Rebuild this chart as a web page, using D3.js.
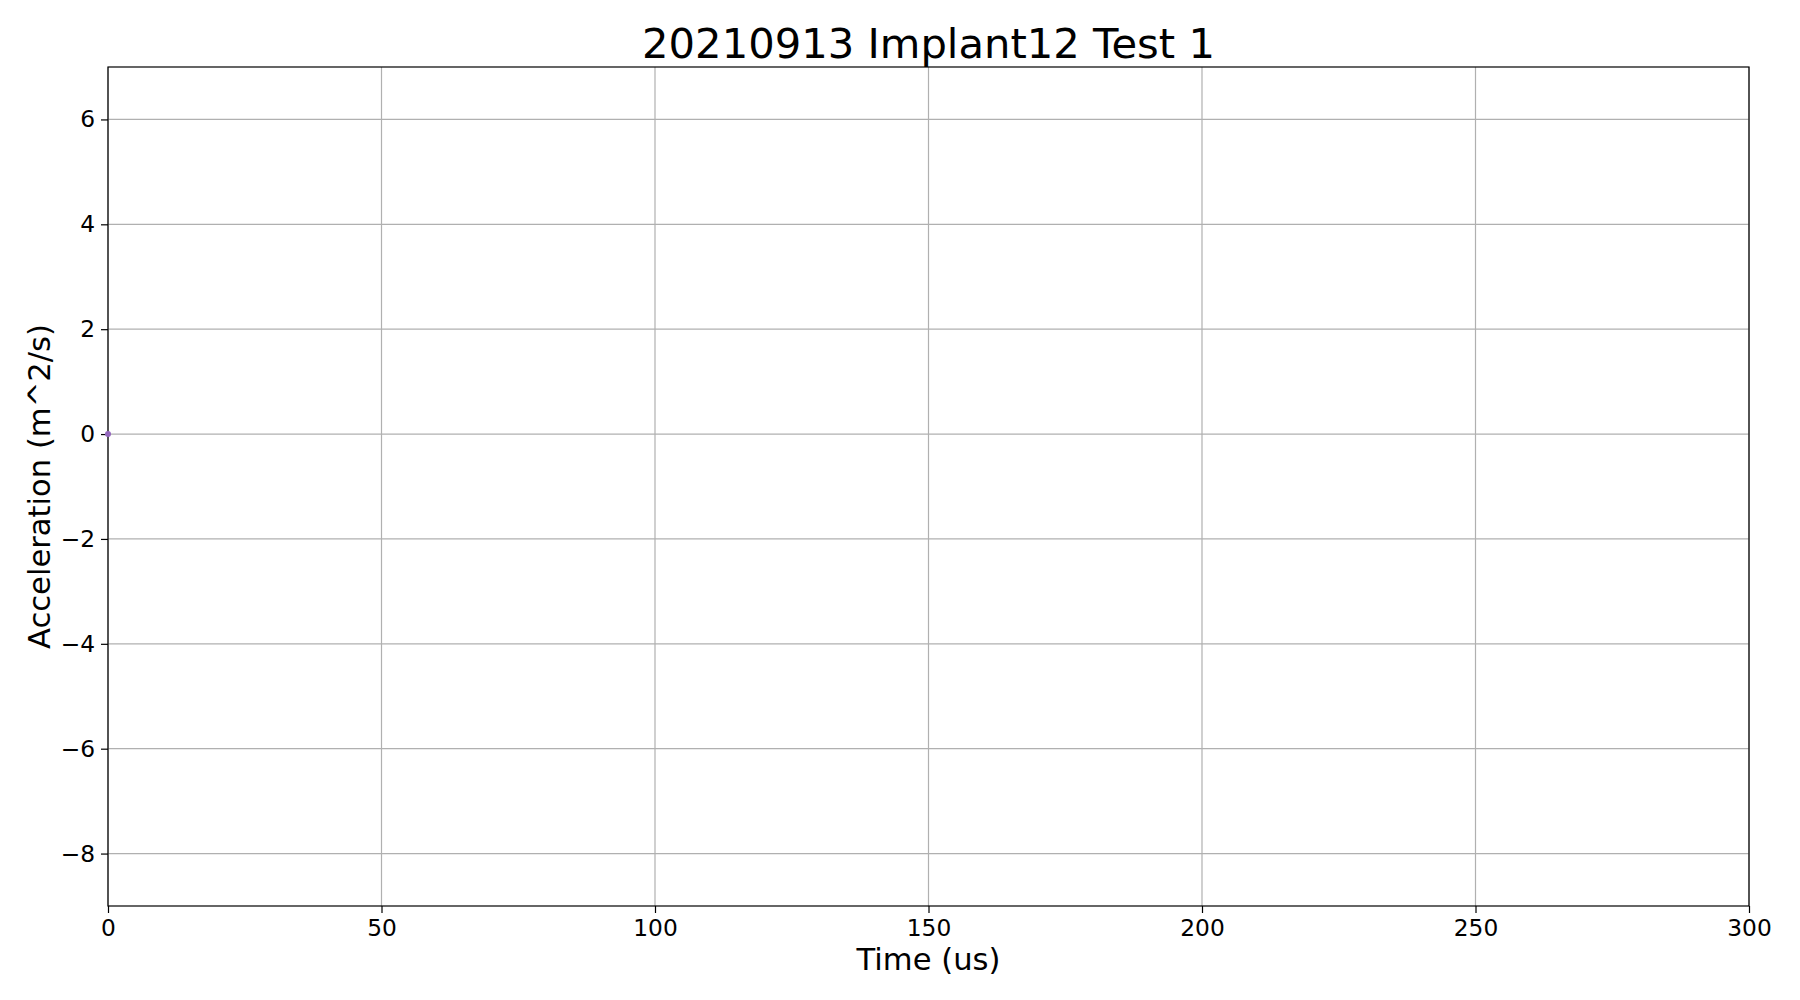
<!DOCTYPE html>
<html>
<head>
<meta charset="utf-8">
<script src="https://cdn.jsdelivr.net/npm/d3@7"></script>
<style>
  body { margin: 0; background: #fff; }
  text { font-family: "DejaVu Sans", sans-serif; }
</style>
</head>
<body>
<svg id="chart" width="1800" height="1000"></svg>
<script>
// data: a single sample at the origin
const timeUs = [0];
const accel = [0];
const xTicks = [0, 50, 100, 150, 200, 250, 300];
const yTicks = [-8, -6, -4, -2, 0, 2, 4, 6];

const margin = { top: 67, right: 51, bottom: 91, left: 108 };
const width = 1800, height = 1000;
const svg = d3.select('#chart');

const x = d3.scaleLinear().domain([0, 300]).range([margin.left, width - margin.right]);
const y = d3.scaleLinear().domain([-9, 7]).range([height - margin.bottom - 3, margin.top]);

// grid
svg.append('g').selectAll('line').data(xTicks).join('line')
  .attr('x1', d => x(d)).attr('x2', d => x(d))
  .attr('y1', y(-9)).attr('y2', y(7))
  .attr('stroke', '#b0b0b0').attr('stroke-width', 1.2);
svg.append('g').selectAll('line').data(yTicks).join('line')
  .attr('y1', d => y(d)).attr('y2', d => y(d))
  .attr('x1', x(0)).attr('x2', x(300))
  .attr('stroke', '#b0b0b0').attr('stroke-width', 1.2);

// axes
const xAxis = svg.append('g')
  .attr('transform', `translate(0,${y(-9)})`)
  .call(d3.axisBottom(x).tickValues(xTicks).tickSize(7).tickPadding(6));
const yAxis = svg.append('g')
  .attr('transform', `translate(${x(0)},0)`)
  .call(d3.axisLeft(y).tickValues(yTicks).tickSize(7).tickPadding(6)
    .tickFormat(d => d < 0 ? '\u2212' + Math.abs(d) : d));
[xAxis, yAxis].forEach(g => {
  g.attr('font-size', 23.3).attr('font-family', 'DejaVu Sans');
  g.select('.domain').remove();
  g.selectAll('text').attr('fill', '#000');
  g.selectAll('line').attr('stroke', '#000').attr('stroke-width', 1.2);
});

// frame
svg.append('rect')
  .attr('x', x(0)).attr('y', y(7))
  .attr('width', x(300) - x(0)).attr('height', y(-9) - y(7))
  .attr('fill', 'none').attr('stroke', '#000').attr('stroke-width', 1.2);

// data
const pts = timeUs.map((t, i) => [t, accel[i]]);
svg.append('path')
  .datum(pts)
  .attr('d', d3.line().x(d => x(d[0])).y(d => y(d[1])))
  .attr('fill', 'none').attr('stroke', '#9467bd').attr('stroke-width', 2);
svg.append('g').selectAll('circle').data(pts).join('circle')
  .attr('cx', d => x(d[0])).attr('cy', d => y(d[1])).attr('r', 3)
  .attr('fill', '#9467bd');

// title and labels
svg.append('text').attr('x', (x(0) + x(300)) / 2).attr('y', 58)
  .attr('text-anchor', 'middle').style('font-size', '41.7px')
  .text('20210913 Implant12 Test 1');
svg.append('text').attr('x', (x(0) + x(300)) / 2).attr('y', 970)
  .attr('text-anchor', 'middle').style('font-size', '30.6px')
  .text('Time (us)');
svg.append('text')
  .attr('transform', `translate(50,${(y(-9) + y(7)) / 2}) rotate(-90)`)
  .attr('text-anchor', 'middle').style('font-size', '30.6px')
  .text('Acceleration (m^2/s)');
</script>
</body>
</html>
